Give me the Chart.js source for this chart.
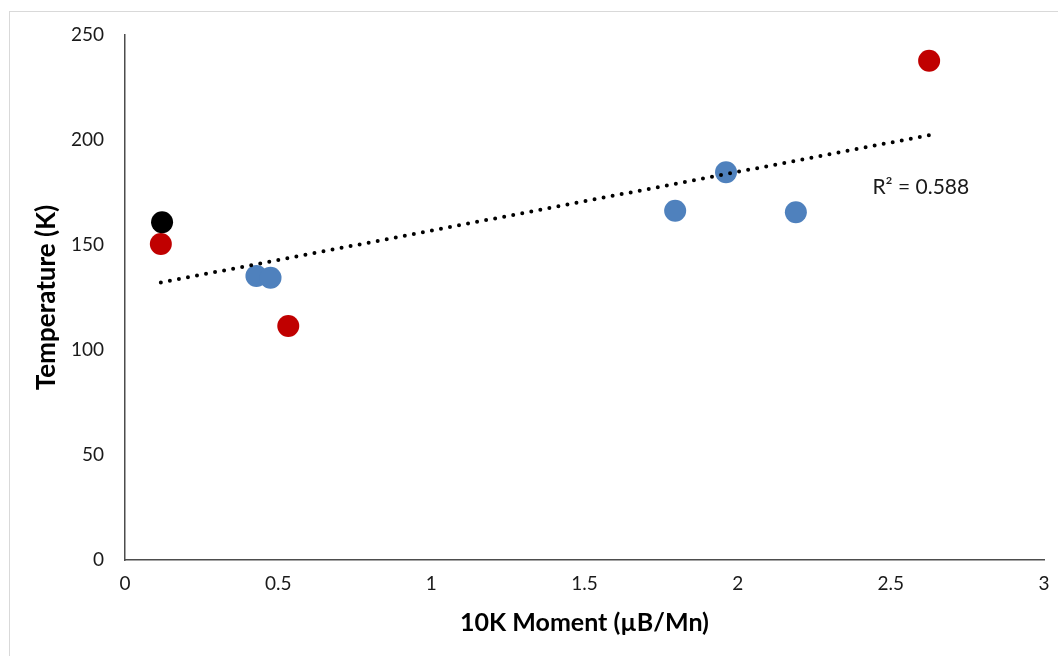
<!DOCTYPE html>
<html>
<head>
<meta charset="utf-8">
<script src="https://cdn.jsdelivr.net/npm/chart.js@4"></script>
<style>
  html, body { margin: 0; padding: 0; background: #fff; overflow: hidden; }
  #wrap { position: relative; width: 1058px; height: 656px; }
  #frame { position: absolute; left: 9px; top: 11px; width: 1060px; height: 660px; border: 1px solid #d9d9d9; }
  #chart { position: absolute; left: 0; top: 0; }
</style>
</head>
<body>
<div id="wrap">
  <div id="frame"></div>
  <canvas id="chart" width="1058" height="656"></canvas>
</div>
<script>
// moment at 10 K (µB/Mn) and transition temperature (K)
let blueMoment = [0.429, 0.475, 1.796, 1.962, 2.19];
let blueTemp = [135.2, 134.4, 166.3, 184.6, 165.6];

let redMoment = [0.117, 0.533, 2.625];
let redTemp = [150.5, 111.4, 237.7];

let blackMoment = [0.121];
let blackTemp = [160.8];

let xTicks = [0, 0.5, 1, 1.5, 2, 2.5, 3];
let yTicks = [0, 50, 100, 150, 200, 250];

let rSquaredText = 'R² = 0.588';

function toPoints(xs, ys) {
  return xs.map((x, i) => ({ x: x, y: ys[i] }));
}

// linear least squares over every sample
let allX = blueMoment.concat(redMoment, blackMoment);
let allY = blueTemp.concat(redTemp, blackTemp);
let n = allX.length;
let meanX = allX.reduce((a, b) => a + b, 0) / n;
let meanY = allY.reduce((a, b) => a + b, 0) / n;
let sxy = 0, sxx = 0;
for (let i = 0; i < n; i++) {
  sxy += (allX[i] - meanX) * (allY[i] - meanY);
  sxx += (allX[i] - meanX) * (allX[i] - meanX);
}
let slope = sxy / sxx;
let intercept = meanY - slope * meanX;
let xMin = Math.min(...allX);
let xMax = Math.max(...allX);
let trend = [
  { x: xMin, y: intercept + slope * xMin },
  { x: xMax, y: intercept + slope * xMax }
];

let fontFamily = 'Lato, "Open Sans", sans-serif';

let rLabel = {
  id: 'rLabel',
  afterDatasetsDraw(chart) {
    let ctx = chart.ctx;
    let xs = chart.scales.x, ys = chart.scales.y;
    ctx.save();
    ctx.font = '21px ' + fontFamily;
    ctx.fillStyle = '#1a1a1a';
    ctx.textAlign = 'left';
    ctx.textBaseline = 'middle';
    ctx.fillText(rSquaredText, xs.getPixelForValue(2.44), ys.getPixelForValue(177.6));
    ctx.restore();
  }
};

let dot = (color) => ({
  backgroundColor: color,
  borderWidth: 0,
  pointRadius: 11,
  pointHoverRadius: 11,
  showLine: false
});

new Chart(document.getElementById('chart'), {
  type: 'scatter',
  data: {
    datasets: [
      Object.assign({ label: 'Blue', data: toPoints(blueMoment, blueTemp), order: 3 }, dot('#4f81bd')),
      Object.assign({ label: 'Red', data: toPoints(redMoment, redTemp), order: 2 }, dot('#c00000')),
      Object.assign({ label: 'Black', data: toPoints(blackMoment, blackTemp), order: 1 }, dot('#000000')),
      {
        label: 'Linear fit',
        data: trend,
        showLine: true,
        borderColor: '#000',
        borderWidth: 4,
        borderDash: [0, 9.2],
        borderCapStyle: 'round',
        pointRadius: 0,
        order: 0
      }
    ]
  },
  options: {
    responsive: false,
    animation: false,
    layout: { padding: { top: 35, right: 14, left: 0, bottom: 0 } },
    plugins: {
      legend: { display: false },
      tooltip: { enabled: false }
    },
    scales: {
      x: {
        type: 'linear',
        min: 0,
        max: 3,
        afterFit(s) {
          s.height = 96;
          s.paddingLeft = 0;
          s.paddingRight = 0;
        },
        afterBuildTicks(s) { s.ticks = xTicks.map(v => ({ value: v })); },
        grid: { display: false, drawTicks: false },
        border: { display: true, color: '#4d4d4d', width: 1.5 },
        ticks: {
          padding: 12,
          color: '#1a1a1a',
          font: { family: fontFamily, size: 19 },
          callback: v => String(v)
        },
        title: {
          display: true,
          text: '10K Moment (µB/Mn)',
          color: '#000',
          padding: { top: 0, bottom: 18 },
          font: { family: fontFamily, size: 25, weight: 'bold' }
        }
      },
      y: {
        type: 'linear',
        min: 0,
        max: 250,
        afterFit(s) {
          s.width = 125;
          s.paddingTop = 0;
          s.paddingBottom = 0;
        },
        afterBuildTicks(s) { s.ticks = yTicks.map(v => ({ value: v })); },
        grid: { display: false, drawTicks: false },
        border: { display: true, color: '#4d4d4d', width: 1.5 },
        ticks: {
          padding: 21,
          color: '#1a1a1a',
          font: { family: fontFamily, size: 19 },
          callback: v => String(v)
        },
        title: {
          display: true,
          text: 'Temperature (K)',
          color: '#000',
          padding: { top: 31, bottom: 0 },
          font: { family: fontFamily, size: 26, weight: 'bold' }
        }
      }
    }
  },
  plugins: [rLabel]
});
</script>
</body>
</html>
